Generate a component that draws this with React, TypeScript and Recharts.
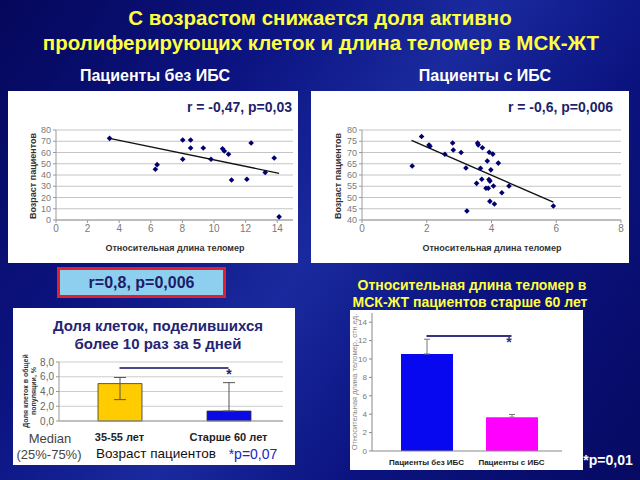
import React from 'react'
import {
  Bar,
  BarChart,
  CartesianGrid,
  Cell,
  ErrorBar,
  ReferenceLine,
  Scatter,
  ScatterChart,
  XAxis,
  YAxis,
} from 'recharts'

const FONT = '"Liberation Sans", Arial, sans-serif'

// Пациенты без ИБС: относительная длина теломер / возраст
const noIbsTelomere = [3.39, 8.02, 8.52, 8.52, 9.32, 8.02, 10.54, 10.65, 10.92, 9.81, 12.35, 13.81, 13.24, 11.11, 12.08, 6.29, 6.4, 14.12]
const noIbsAge = [72.6, 71.1, 71.1, 64, 64, 54, 63.4, 61.3, 58.4, 54, 68.4, 55.1, 42.2, 35.6, 36.2, 45.1, 49.2, 2.8]
const noIbsTrendX = [3.39, 14.12]
const noIbsTrendY = [72.6, 41.5]
const noIbsXTicks = [0, 2, 4, 6, 8, 10, 12, 14]
const noIbsYTicks = [0, 10, 20, 30, 40, 50, 60, 70, 80]

// Пациенты с ИБС
const ibsTelomere = [1.55, 1.84, 2.07, 2.1, 2.56, 2.8, 2.82, 3.06, 3.21, 3.24, 3.54, 3.57, 3.59, 3.66, 3.7, 3.72, 3.83, 3.9, 3.87, 3.92, 3.95, 3.93, 3.98, 3.95, 4.04, 4.06, 4.09, 4.21, 4.32, 4.54, 5.91]
const ibsAge = [64, 77.1, 73.3, 72.8, 69.2, 74.2, 71.1, 70, 63.1, 44, 56.3, 74.2, 73.4, 63, 58.1, 72.1, 54.1, 54.1, 66.2, 58, 57.3, 70.1, 62.3, 48.3, 69.3, 55.1, 47.1, 65.3, 52.1, 55.1, 46.2]
const ibsTrendX = [1.53, 5.91]
const ibsTrendY = [75.4, 47.9]
const ibsXTicks = [0, 2, 4, 6, 8]
const ibsYTicks = [40, 45, 50, 55, 60, 65, 70, 75, 80]

// Доля клеток, поделившихся более 10 раз за 5 дней
const divCats = ['35-55 лет', 'Старше 60 лет']
const divMedian = [5.07, 1.35]
const divErr = [[2.17, 0.83], [0, 3.85]]
const divColors = ['#ffcc00', '#0a0ae6']
const divYTicks = [0, 2, 4, 6, 8]
const divSigY = 7.2

// Относительная длина теломер, пациенты старше 60 лет
const telCats = ['Пациенты без ИБС', 'Пациенты с ИБС']
const telMean = [10.55, 3.67]
const telErr = [[0, 1.6], [0, 0.3]]
const telColors = ['#0808f0', '#ff00ff']
const telYTicks = [0, 2, 4, 6, 8, 10, 12, 14]
const telSigY = 12.5

const zip = (xs: number[], ys: number[]) => xs.map((x, i) => ({ x, y: ys[i] }))

const Txt = ({
  x, y, size, color, bold = false, align = 'center', rotate = false, children, style,
}: {
  x: number; y: number; size: number; color: string; bold?: boolean
  align?: 'center' | 'right' | 'left'; rotate?: boolean; children: React.ReactNode; style?: React.CSSProperties
}) => {
  const tx = align === 'center' ? '-50%' : align === 'right' ? '-100%' : '0'
  return (
    <div
      style={{
        position: 'absolute', left: x, top: y, whiteSpace: 'nowrap', lineHeight: 1,
        fontSize: size, color, fontWeight: bold ? 700 : 400, textAlign: 'center',
        transform: `translate(${tx}, -50%)${rotate ? ' rotate(-90deg)' : ''}`,
        ...style,
      }}
    >
      {children}
    </div>
  )
}

const tickStyle = { fontSize: 9, fill: '#7a7a7a', fontFamily: FONT }

// маленький ромб, как маркер Excel
const Diamond = (p: any) => {
  const { cx, cy } = p
  const r = 2.8
  return <polygon points={`${cx},${cy - r} ${cx + r},${cy} ${cx},${cy + r} ${cx - r},${cy}`} fill="#000070" />
}

function ScatterPanel({
  left, width, points, trend, xDomain, xTicks, yDomain, yTicks, yWidth, rightMargin,
}: {
  left: number; width: number; points: { x: number; y: number }[]; trend: { x: number; y: number }[]
  xDomain: [number, number]; xTicks: number[]; yDomain: [number, number]; yTicks: number[]
  yWidth: number; rightMargin: number
}) {
  return (
    <div style={{ position: 'absolute', left, top: 91, width, height: 172, background: '#fff' }}>
      <ScatterChart width={width} height={172} margin={{ top: 39, right: rightMargin, bottom: 23, left: 0 }}>
        <CartesianGrid vertical={false} stroke="#c4c4c4" />
        <XAxis type="number" dataKey="x" domain={xDomain} ticks={xTicks} interval={0} height={20} tickSize={3} stroke="#9a9a9a" tick={{ ...tickStyle, fontSize: 10 }} />
        <YAxis type="number" dataKey="y" domain={yDomain} ticks={yTicks} interval={0} width={yWidth} tickSize={3} tickMargin={2} stroke="#9a9a9a" tick={tickStyle} />
        <Scatter data={points} shape={Diamond} isAnimationActive={false} />
        <ReferenceLine segment={trend} stroke="#111" strokeWidth={1.4} />
      </ScatterChart>
    </div>
  )
}

export default function App() {
  const divData = divCats.map((name, i) => ({ name, v: divMedian[i], err: divErr[i] }))
  const telData = telCats.map((name, i) => ({ name, v: telMean[i], err: telErr[i] }))

  return (
    <div
      style={{
        position: 'fixed', left: 0, top: 0, width: 640, height: 480, overflow: 'hidden', fontFamily: FONT,
        background: 'linear-gradient(125deg, #05075a 0%, #0c1482 30%, #1a2a9e 50%, #0b1380 70%, #060a62 100%)',
      }}
    >
      <Txt x={320} y={18} size={20.5} color="#ffff40" bold>С возрастом снижается доля активно</Txt>
      <Txt x={321} y={43} size={20.5} color="#ffff40" bold>пролиферирующих клеток и длина теломер в МСК-ЖТ</Txt>
      <Txt x={155} y={76} size={16} color="#fff" bold>Пациенты без ИБС</Txt>
      <Txt x={485} y={76} size={16} color="#fff" bold>Пациенты с ИБС</Txt>

      <ScatterPanel
        left={8} width={290} points={zip(noIbsTelomere, noIbsAge)} trend={zip(noIbsTrendX, noIbsTrendY)}
        xDomain={[0, 15]} xTicks={noIbsXTicks} yDomain={[0, 80]} yTicks={noIbsYTicks} yWidth={48} rightMargin={5}
      />
      <ScatterPanel
        left={311} width={318} points={zip(ibsTelomere, ibsAge)} trend={zip(ibsTrendX, ibsTrendY)}
        xDomain={[0, 8]} xTicks={ibsXTicks} yDomain={[40, 80]} yTicks={ibsYTicks} yWidth={51} rightMargin={8}
      />
      <Txt x={292} y={107} size={14} color="#1f1f6b" bold align="right">r = -0,47, p=0,03</Txt>
      <Txt x={613} y={107} size={14} color="#1f1f6b" bold align="right">r = -0,6, p=0,006</Txt>
      <Txt x={33} y={176} size={9} color="#333" bold rotate>Возраст пациентов</Txt>
      <Txt x={338} y={176} size={9} color="#333" bold rotate>Возраст пациентов</Txt>
      <Txt x={175} y={248} size={9} color="#333" bold>Относительная длина теломер</Txt>
      <Txt x={492} y={248} size={9} color="#333" bold>Относительная длина теломер</Txt>

      <div
        style={{
          position: 'absolute', left: 57, top: 267, width: 169, height: 31, boxSizing: 'border-box',
          background: '#8ecff0', border: '3px solid #e3202a', display: 'flex', alignItems: 'center',
          justifyContent: 'center', color: '#1c1c6a', fontWeight: 700, fontSize: 16,
        }}
      >
        r=0,8, p=0,006
      </div>

      <Txt x={472} y={285} size={14} color="#ffff40" bold>Относительная длина теломер в</Txt>
      <Txt x={470} y={302} size={14} color="#ffff40" bold>МСК-ЖТ пациентов старше 60 лет</Txt>

      {/* Доля клеток */}
      <div style={{ position: 'absolute', left: 13, top: 308, width: 282, height: 157, background: '#fff' }}>
        <BarChart width={282} height={157} data={divData} margin={{ top: 54, right: 12, bottom: 24, left: 0 }}>
          <CartesianGrid vertical={false} stroke="#cccccc" />
          <XAxis
            dataKey="name" height={20} tickLine={false} tickSize={6} tickMargin={6} stroke="#999"
            padding={{ left: 6, right: 0 }}
            tick={{ fontSize: 11, fill: '#222', fontWeight: 700, fontFamily: FONT }}
          />
          <YAxis
            domain={[0, 8]} ticks={divYTicks} interval={0} width={46} tickSize={3} tickMargin={2} stroke="#999"
            tickFormatter={(v: number) => v.toFixed(1).replace('.', ',')}
            tick={{ fontSize: 10, fill: '#666', fontFamily: FONT }}
          />
          <Bar dataKey="v" barSize={44} stroke="#333" strokeWidth={0.8} isAnimationActive={false}>
            {divData.map((d, i) => <Cell key={d.name} fill={divColors[i]} />)}
            <ErrorBar dataKey="err" width={6} stroke="#555" strokeWidth={1} direction="y" />
          </Bar>
          <ReferenceLine
            segment={[{ x: divCats[0], y: divSigY }, { x: divCats[1], y: divSigY }]}
            stroke="#4a4a86" strokeWidth={2}
          />
        </BarChart>
      </div>
      <Txt x={158} y={325} size={15} color="#242472" bold>Доля клеток, поделившихся</Txt>
      <Txt x={158} y={343} size={15} color="#242472" bold>более 10 раз за 5 дней</Txt>
      <Txt x={229} y={374} size={14} color="#242472" bold>*</Txt>
      <Txt x={25} y={391} size={7} color="#333" bold rotate>Доля клеток в общей</Txt>
      <Txt x={33} y={391} size={7} color="#333" bold rotate>популяции, %</Txt>
      <Txt x={50} y={438} size={13} color="#444">Median</Txt>
      <Txt x={49} y={454} size={13} color="#444">(25%-75%)</Txt>
      <Txt x={156} y={454} size={13.5} color="#111">Возраст пациентов</Txt>
      <Txt x={253} y={454} size={14} color="#2222c0">*p=0,07</Txt>

      {/* Относительная длина теломер */}
      <div style={{ position: 'absolute', left: 350, top: 310, width: 233, height: 160, background: '#fff' }}>
        <BarChart width={233} height={160} data={telData} margin={{ top: 3, right: 21, bottom: 0, left: 0 }}>
          <XAxis
            dataKey="name" height={19} tickLine={false} tickSize={4} tickMargin={4} stroke="#888"
            padding={{ left: 12, right: 8 }}
            tick={{ fontSize: 8, fill: '#222', fontWeight: 700, fontFamily: FONT }}
          />
          <XAxis xAxisId="top" dataKey="name" orientation="top" height={0} tick={false} tickLine={false} stroke="#888" />
          <YAxis
            domain={[0, 15]} ticks={telYTicks} interval={0} width={22} tickSize={3} tickMargin={2} stroke="#888"
            tick={{ fontSize: 8, fill: '#777', fontFamily: FONT }}
          />
          <YAxis yAxisId="right" orientation="right" domain={[0, 15]} width={0} tick={false} tickLine={false} stroke="#888" />
          <Bar dataKey="v" barSize={52} isAnimationActive={false}>
            {telData.map((d, i) => <Cell key={d.name} fill={telColors[i]} />)}
            <ErrorBar dataKey="err" width={3} stroke="#777" strokeWidth={1} direction="y" />
          </Bar>
          <ReferenceLine
            segment={[{ x: telCats[0], y: telSigY }, { x: telCats[1], y: telSigY }]}
            stroke="#33337f" strokeWidth={2}
          />
        </BarChart>
      </div>
      <Txt x={355} y={382} size={7.5} color="#888" rotate>Относительная длина теломер, отн.ед.</Txt>
      <Txt x={509} y={342} size={14} color="#33337f" bold>*</Txt>
      <Txt x={608} y={460} size={14} color="#fff" bold>*p=0,01</Txt>
    </div>
  )
}
